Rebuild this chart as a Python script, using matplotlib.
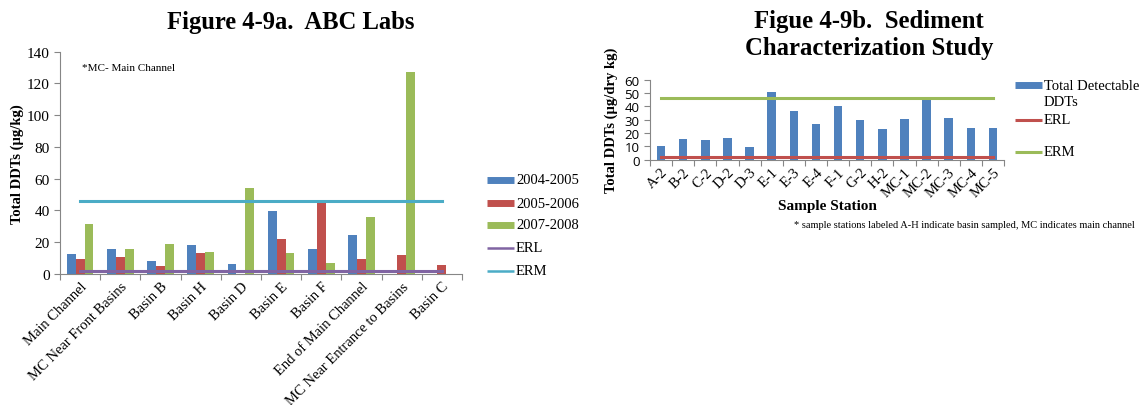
import numpy as np
import matplotlib.pyplot as plt
from matplotlib.lines import Line2D

# ---- data: Figure 4-9a ----
sites = ["Main Channel", "MC Near Front Basins", "Basin B", "Basin H", "Basin D",
         "Basin E", "Basin F", "End of Main Channel", "MC Near Entrance to Basins", "Basin C"]
y0405 = [12.8, 15.5, 8.0, 18.5, 6.5, 39.5, 15.5, 24.5, 0, 0]
y0506 = [9.6, 10.8, 5.0, 13.5, 0, 22.0, 45.5, 9.5, 12.0, 5.5]
y0708 = [31.4, 15.8, 19.0, 14.0, 54.0, 13.0, 7.0, 35.8, 127.5, 0]
erl_a = 2.0
erm_a = 46.0

# ---- data: Figure 4-9b ----
stations = ["A-2", "B-2", "C-2", "D-2", "D-3", "E-1", "E-3", "E-4", "F-1", "G-2",
            "H-2", "MC-1", "MC-2", "MC-3", "MC-4", "MC-5"]
total_ddt = [10, 15.8, 14.8, 16.3, 9.3, 50.8, 36.5, 26.8, 40.5, 30, 22.7,
             30.7, 44.6, 31.2, 24, 24]
erl_b = 2.0
erm_b = 46.0

BLUE, RED, GREEN = "#4F81BD", "#C0504D", "#9BBB59"
PURPLE, CYAN = "#8064A2", "#4BACC6"
GRAY = "#868686"
SERIF = "Liberation Serif"

W, H = 1148, 406
fig = plt.figure(figsize=(W / 100, H / 100), dpi=100)


def px_axes(x0, y0, x1, y1):
    return fig.add_axes([x0 / W, 1 - y1 / H, (x1 - x0) / W, (y1 - y0) / H])


def excel_style(ax):
    for s in ["top", "right"]:
        ax.spines[s].set_visible(False)
    for s in ["left", "bottom"]:
        ax.spines[s].set_color(GRAY)
        ax.spines[s].set_linewidth(0.8)
    ax.tick_params(axis="both", color=GRAY, length=4, width=0.8)


def legend_entry(x, y, color, lw, label, size):
    # x, y in pixels from top-left; handle 27 px long
    fig.add_artist(Line2D([x / W, (x + 27) / W], [1 - y / H, 1 - y / H], color=color,
                          lw=lw, transform=fig.transFigure, solid_capstyle="butt"))
    fig.text((x + 29) / W, 1 - y / H, label, family=SERIF, fontsize=size,
             va="center", ha="left")


# ---------- left chart ----------
ax1 = px_axes(60, 52.7, 462, 275)
n = len(sites)
x = np.arange(n)
bw = 0.22
ax1.bar(x - bw, y0405, bw, color=BLUE)
ax1.bar(x, y0506, bw, color=RED)
ax1.bar(x + bw, y0708, bw, color=GREEN)
ax1.plot([x[0], x[-1]], [erl_a, erl_a], color=PURPLE, lw=2.2)
ax1.plot([x[0], x[-1]], [erm_a, erm_a], color=CYAN, lw=2.2)
ax1.set_xlim(-0.5, n - 0.5)
ax1.set_ylim(0, 140)
ax1.set_yticks(range(0, 141, 20))
ax1.set_xticks(np.arange(n + 1) - 0.5)
ax1.set_xticklabels([])
ax1.set_xticks(x, minor=True)
ax1.set_xticklabels(sites, minor=True, rotation=45, ha="right", rotation_mode="anchor",
                    family=SERIF, fontsize=10.5)
ax1.tick_params(axis="x", which="minor", length=0, pad=4)
excel_style(ax1)
for t in ax1.get_yticklabels():
    t.set_family(SERIF)
    t.set_fontsize(11)
ax1.set_ylabel("Total DDTs (µg/kg)", family=SERIF, fontweight="bold", fontsize=10.5, labelpad=2)
ax1.text(0.055, 0.93, "*MC- Main Channel", transform=ax1.transAxes, family=SERIF,
         fontsize=8, va="center")
fig.text(291 / W, 1 - 22 / H, "Figure 4-9a.  ABC Labs", ha="center", va="center",
         family=SERIF, fontweight="bold", fontsize=17.7)

legend_entry(487, 181, BLUE, 5, "2004-2005", 10.5)
legend_entry(487, 204, RED, 5, "2005-2006", 10.5)
legend_entry(487, 226, GREEN, 5, "2007-2008", 10.5)
legend_entry(487, 249, PURPLE, 1.8, "ERL", 10.5)
legend_entry(487, 272, CYAN, 1.8, "ERM", 10.5)

# ---------- right chart ----------
ax2 = px_axes(650, 80.7, 1004, 160.7)
m = len(stations)
xs = np.arange(m)
ax2.bar(xs, total_ddt, 0.38, color=BLUE)
ax2.plot([xs[0], xs[-1]], [erl_b, erl_b], color=RED, lw=2.2)
ax2.plot([xs[0], xs[-1]], [erm_b, erm_b], color=GREEN, lw=2.2)
ax2.set_xlim(-0.5, m - 0.5)
ax2.set_ylim(0, 60)
ax2.set_yticks(range(0, 61, 10))
ax2.set_xticks(np.arange(m + 1) - 0.5)
ax2.set_xticklabels([])
ax2.set_xticks(xs, minor=True)
ax2.set_xticklabels(stations, minor=True, rotation=45, ha="right", rotation_mode="anchor",
                    family=SERIF, fontsize=10.5)
ax2.tick_params(axis="x", which="minor", length=0, pad=4)
excel_style(ax2)
for t in ax2.get_yticklabels():
    t.set_family("Open Sans")
    t.set_fontsize(9.5)
ax2.set_ylabel("Total DDTs (µg/dry kg)", family=SERIF, fontweight="bold", fontsize=10.5,
               labelpad=5)
ax2.set_xlabel("Sample Station", family=SERIF, fontweight="bold", fontsize=11, labelpad=0)
fig.text(869 / W, 1 - 35 / H, "Figue 4-9b.  Sediment\nCharacterization Study", ha="center",
         va="center", family=SERIF, fontweight="bold", fontsize=17.8, linespacing=1.2)
fig.text(794 / W, 1 - 225 / H,
         "* sample stations labeled A-H indicate basin sampled, MC indicates main channel",
         family=SERIF, fontsize=7.5, va="center")

legend_entry(1015, 86, BLUE, 5, "Total Detectable", 10.5)
fig.text(1044 / W, 1 - 103 / H, "DDTs", family=SERIF, fontsize=10.5, va="center")
legend_entry(1015, 121, RED, 2.2, "ERL", 10.5)
legend_entry(1015, 153, GREEN, 2.2, "ERM", 10.5)

fig.savefig("out.png", dpi=100)
